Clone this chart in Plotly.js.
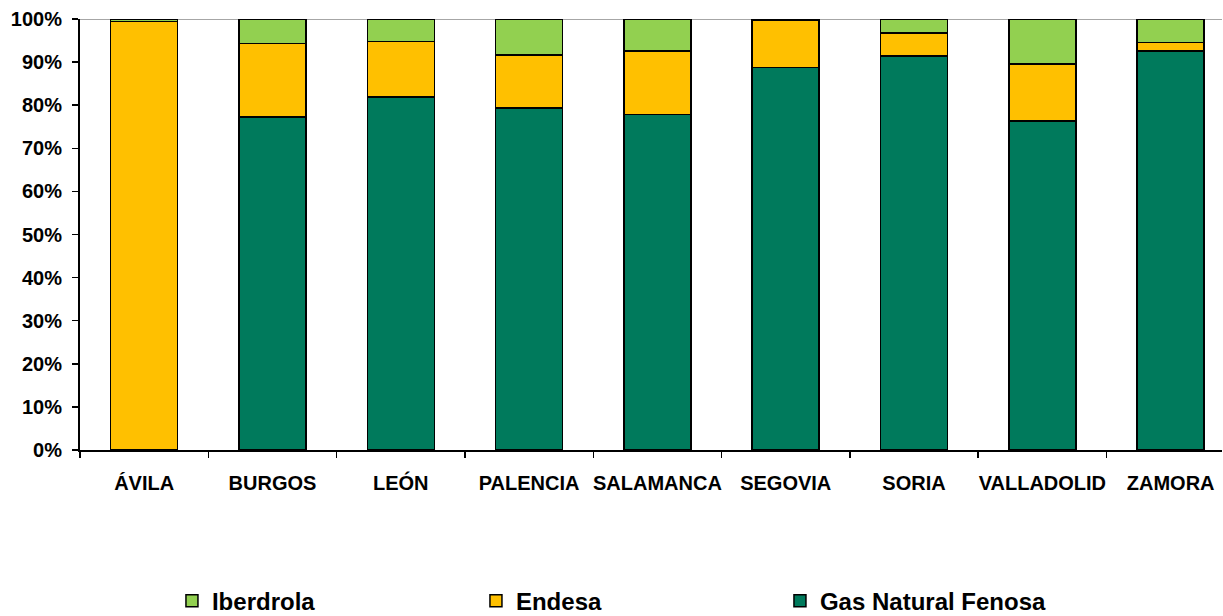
<!DOCTYPE html>
<html>
<head>
<meta charset="utf-8">
<script src="https://cdn.plot.ly/plotly-3.0.1.min.js"></script>
<style>html,body{margin:0;padding:0;background:#fff;}#chart{width:1223px;height:616px;}</style>
</head>
<body>
<div id="chart"></div>
<script>
const provinces = ["ÁVILA","BURGOS","LEÓN","PALENCIA","SALAMANCA","SEGOVIA","SORIA","VALLADOLID","ZAMORA"];
const gasNatural = [0, 77.3, 81.9, 79.4, 77.9, 88.7, 91.4, 76.3, 92.6];
const endesa     = [99.4, 17.0, 12.9, 12.3, 14.7, 10.9, 5.3, 13.3, 1.9];
const iberdrola  = [0.6, 5.7, 5.2, 8.3, 7.4, 0.4, 3.3, 10.4, 5.5];
const yTicks = [0,10,20,30,40,50,60,70,80,90,100];
const yTickLabels = yTicks.map(v => v + '%');

const line = {color:'#000', width:1.5};
const traces = [
  {type:'bar', name:'Gas Natural Fenosa', x:provinces, y:gasNatural, marker:{color:'#007A5C', line:line}},
  {type:'bar', name:'Endesa', x:provinces, y:endesa, marker:{color:'#FFC000', line:line}},
  {type:'bar', name:'Iberdrola', x:provinces, y:iberdrola, marker:{color:'#92D050', line:line}}
];

const layout = {
  width:1223, height:616,
  margin:{l:80, r:1, t:19, b:166},
  barmode:'stack', bargap:0.478,
  paper_bgcolor:'#fff', plot_bgcolor:'#fff',
  font:{family:'Liberation Sans, Arial, sans-serif', size:20, color:'#000', weight:'bold'},
  showlegend:true,
  legend:{orientation:'h', traceorder:'reversed', xref:'container', yref:'container', x:0.1406, y:0.024, xanchor:'left', yanchor:'middle',
          entrywidth:259, entrywidthmode:'pixels', itemwidth:30,
          font:{family:'Liberation Sans, Arial, sans-serif', size:24, color:'#000', weight:'bold'}},
  xaxis:{type:'category', range:[-0.5, 8.4], autorange:false, showline:true, linecolor:'#000', linewidth:2, ticks:'outside', tickson:'boundaries', ticklen:6, tickcolor:'#000', tickwidth:1.5,
         showgrid:false, zeroline:false, tickangle:0, tickfont:{size:20, weight:'bold'}, ticklabelstandoff:14},
  yaxis:{range:[0,100], tickvals:yTicks, ticktext:yTickLabels, showline:true, linecolor:'#000', linewidth:2, ticks:'outside', ticklen:6, tickcolor:'#000', tickwidth:1.5,
         showgrid:false, zeroline:false, tickfont:{size:20, weight:'bold'}, ticklabelstandoff:6, fixedrange:true},
  shapes:[{type:'line', xref:'paper', yref:'y', x0:0, x1:1, y0:100, y1:100, line:{color:'#888', width:1.5}, layer:'below'}]
};

Plotly.newPlot('chart', traces, layout, {displayModeBar:false, staticPlot:true});
</script>
</body>
</html>
